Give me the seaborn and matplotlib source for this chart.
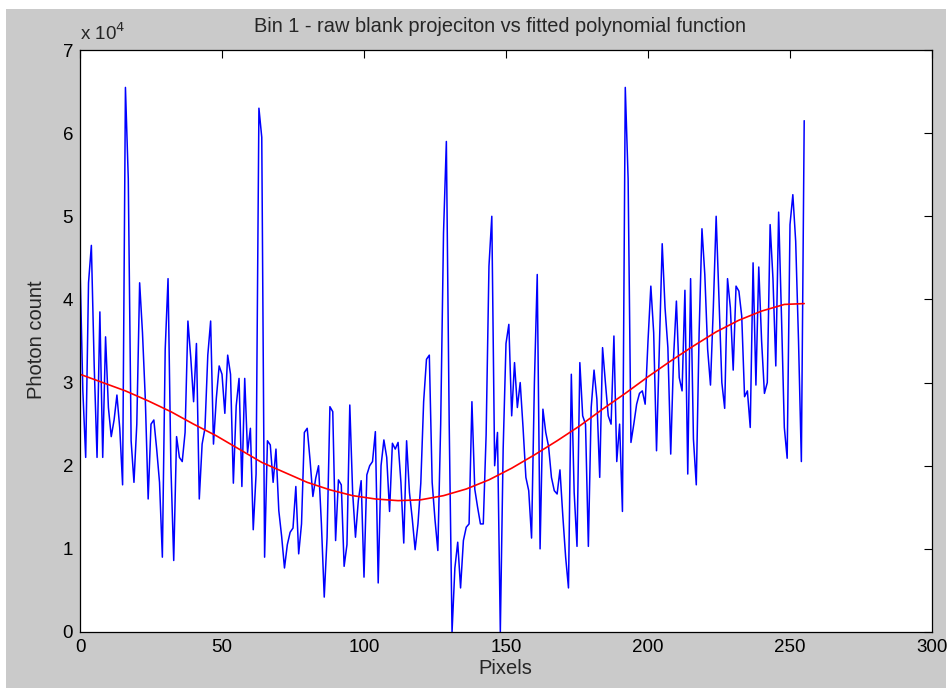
import matplotlib
matplotlib.use("Agg")
import matplotlib.pyplot as plt
from matplotlib.patches import Rectangle
import numpy as np
import pandas as pd
import seaborn as sns

# Raw blank projection, bin 1 (photon counts in units of 10^4), one value per detector pixel
raw_counts = [
    4.40, 2.90, 2.10, 4.20, 4.65, 3.20, 2.10, 3.85, 2.10, 3.55,
    2.70, 2.35, 2.55, 2.85, 2.45, 1.77, 6.55, 5.45, 2.30, 1.80,
    2.50, 4.20, 3.60, 2.80, 1.60, 2.50, 2.55, 2.20, 1.80, 0.90,
    3.40, 4.25, 2.00, 0.86, 2.35, 2.10, 2.05, 2.40, 3.74, 3.30,
    2.77, 3.47, 1.60, 2.26, 2.45, 3.33, 3.74, 2.26, 2.81, 3.20,
    3.10, 2.63, 3.33, 3.10, 1.79, 2.72, 3.05, 1.75, 3.05, 2.16,
    2.45, 1.23, 1.90, 6.30, 5.95, 0.90, 2.30, 2.25, 1.80, 2.20,
    1.46, 1.15, 0.77, 1.05, 1.20, 1.25, 1.75, 0.94, 1.30, 2.40,
    2.45, 2.07, 1.63, 1.85, 2.00, 1.30, 0.42, 1.14, 2.71, 2.65,
    1.10, 1.83, 1.77, 0.79, 1.05, 2.73, 1.68, 1.14, 1.58, 1.82,
    0.66, 1.89, 2.00, 2.05, 2.41, 0.59, 2.00, 2.31, 2.10, 1.45,
    2.27, 2.20, 2.28, 1.80, 1.07, 2.30, 1.68, 1.36, 0.99, 1.30,
    1.79, 2.77, 3.28, 3.33, 1.80, 1.35, 0.98, 2.50, 4.80, 5.90,
    2.50, 0.00, 0.77, 1.08, 0.53, 1.10, 1.26, 1.30, 2.77, 1.72,
    1.50, 1.30, 1.30, 2.37, 4.40, 5.00, 2.00, 2.40, 0.00, 2.20,
    3.47, 3.70, 2.60, 3.24, 2.70, 3.00, 2.46, 1.86, 1.70, 1.13,
    3.00, 4.30, 1.00, 2.68, 2.40, 2.23, 1.86, 1.70, 1.66, 1.95,
    1.40, 0.90, 0.53, 3.10, 1.68, 1.03, 3.24, 2.60, 2.50, 1.03,
    2.70, 3.15, 2.80, 1.86, 3.42, 3.00, 2.60, 2.50, 3.56, 2.05,
    2.50, 1.45, 6.55, 5.45, 2.28, 2.50, 2.74, 2.87, 2.90, 2.74,
    3.50, 4.16, 3.60, 2.18, 3.42, 4.67, 3.90, 3.42, 2.14, 3.30,
    3.98, 3.06, 2.90, 4.11, 1.90, 4.25, 2.32, 1.77, 3.60, 4.85,
    4.30, 3.40, 2.97, 3.90, 5.00, 4.00, 3.00, 2.69, 4.25, 3.90,
    3.15, 4.16, 4.10, 3.80, 2.83, 2.90, 2.46, 4.44, 2.97, 4.39,
    3.50, 2.87, 3.00, 4.90, 4.25, 3.20, 5.05, 3.80, 2.46, 2.09,
    4.90, 5.26, 4.70, 3.50, 2.05, 6.15,
]
pixels = list(range(len(raw_counts)))

# Fitted polynomial evaluated at selected pixels (units of 10^4)
fit_pixels = [0, 8, 16, 24, 32, 40, 48, 56, 64, 72, 80, 88, 96, 104, 112, 120,
              128, 136, 144, 152, 160, 168, 176, 184, 192, 200, 208, 216, 224,
              232, 240, 248, 255]
fit_counts = [3.10, 3.00, 2.90, 2.78, 2.65, 2.50, 2.36, 2.20, 2.04, 1.92, 1.80,
              1.71, 1.64, 1.60, 1.58, 1.59, 1.64, 1.72, 1.83, 1.97, 2.13, 2.30,
              2.48, 2.68, 2.87, 3.07, 3.26, 3.44, 3.61, 3.75, 3.86, 3.94, 3.95]

x_ticks = [0, 50, 100, 150, 200, 250, 300]
y_ticks = [0, 1, 2, 3, 4, 5, 6, 7]

title_text = "Bin 1 - raw blank projeciton vs fitted polynomial function"
x_label = "Pixels"
y_label = "Photon count"

scale = 1e4
raw_df = pd.DataFrame({"pixel": pixels, "count": np.array(raw_counts) * scale})
fit_df = pd.DataFrame({"pixel": fit_pixels, "count": np.array(fit_counts) * scale})

sns.set_theme(style="white")
plt.rcParams["font.family"] = ["Liberation Sans", "DejaVu Sans"]

W, H = 949, 690
fig = plt.figure(figsize=(W / 100, H / 100), dpi=100)
fig.patch.set_facecolor("white")
# grey figure panel
fig.patches.append(Rectangle((6 / W, 2 / H), (946 - 6) / W, (681 - 2) / H,
                             transform=fig.transFigure, facecolor="#cacaca",
                             edgecolor="none", zorder=-10))

ax_l, ax_r, ax_t, ax_b = 80, 932, 50, 632
ax = fig.add_axes([ax_l / W, 1 - ax_b / H, (ax_r - ax_l) / W, (ax_b - ax_t) / H])
ax.set_facecolor("white")

sns.lineplot(data=raw_df, x="pixel", y="count", ax=ax, color="#0000ff",
             linewidth=1.1, estimator=None, sort=False)
sns.lineplot(data=fit_df, x="pixel", y="count", ax=ax, color="#ff0000",
             linewidth=1.2, estimator=None, sort=False)

ax.set_xlim(0, 300)
ax.set_ylim(0, 7 * scale)
ax.set_xticks(x_ticks)
ax.set_xticklabels([str(t) for t in x_ticks])
ax.set_yticks([t * scale for t in y_ticks])
ax.set_yticklabels([str(t) for t in y_ticks])
ax.tick_params(direction="in", length=6, width=0.8, top=True, right=True,
               labelsize=13.5, colors="black", pad=5)
for s in ax.spines.values():
    s.set_visible(True)
    s.set_color("black")
    s.set_linewidth(0.9)
ax.set_xlabel("")
ax.set_ylabel("")

fig.text(505 / W, 1 - 669 / H, x_label, ha="center", va="center", fontsize=14.5)
fig.text(37 / W, 1 - 340 / H, y_label, ha="center", va="center", rotation=90,
         fontsize=14.5)
fig.text(500 / W, 1 - 27 / H, title_text, ha="center", va="center", fontsize=14.4)
fig.text(80 / W, 1 - 33 / H, r"x 10$^{4}$", ha="left", va="center", fontsize=13.5)

fig.savefig("out.png", dpi=100, facecolor=fig.get_facecolor())
